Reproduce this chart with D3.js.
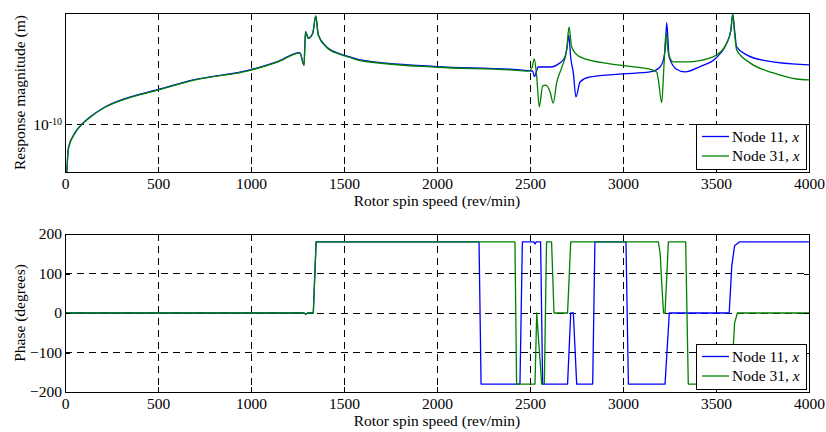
<!DOCTYPE html>
<meta charset="utf-8">
<style>
body{margin:0;background:#fff;}
.grid line{stroke:#000;stroke-width:1;stroke-dasharray:7,5;shape-rendering:crispEdges;}
.box{stroke:#000;stroke-width:1;shape-rendering:crispEdges;}
.tick line{stroke:#000;shape-rendering:crispEdges;}
.curve{fill:none;stroke-width:1.3;stroke-linejoin:round;}
</style>
<body>
<script src="https://d3js.org/d3.v7.min.js"></script>
<script>

// response magnitude (m) against spin speed (rev/min)
var speedMag11=[0,9,18,54,90,134,206,332,493,690,995,1138,1263,1285,1293,1308,1332,1348,1362,1407,
  1478,1532,1586,2000,2392,2491,2515,2523,2545,2607,2661,2688,2700,2708,2719,2733,2747,2769,2823,3000,
  3145,3199,3217,3228,3235,3248,3288,3333,3414,3500,3557,3580,3590,3600,3611,3665,3772,4000];
var mag11=[3.0e-11,3.7e-11,6.1e-11,8.4e-11,1.0e-10,1.16e-10,1.40e-10,1.72e-10,2.03e-10,2.50e-10,
  3.08e-10,3.63e-10,4.40e-10,3.40e-10,6.80e-10,5.96e-10,6.61e-10,9.40e-10,6.34e-10,4.95e-10,
  4.30e-10,4.03e-10,3.79e-10,3.30e-10,3.12e-10,3.03e-10,3.00e-10,2.68e-10,3.27e-10,3.27e-10,
  3.56e-10,4.03e-10,5.00e-10,6.34e-10,3.94e-10,2.89e-10,1.76e-10,2.40e-10,2.66e-10,2.83e-10,
  2.95e-10,3.27e-10,3.79e-10,5.00e-10,8.18e-10,4.03e-10,3.12e-10,2.95e-10,3.30e-10,3.94e-10,
  5.33e-10,7.00e-10,9.79e-10,7.00e-10,4.95e-10,4.20e-10,3.71e-10,3.41e-10];

var speedMag31=[0,9,18,54,90,134,206,332,493,690,995,1138,1263,1285,1293,1308,1332,1348,1362,1407,
  1478,1532,1586,2000,2392,2491,2510,2523,2536,2550,2568,2586,2608,2625,2643,2670,2697,2710,2724,2769,
  2930,3145,3181,3190,3208,3220,3231,3244,3270,3342,3485,3557,3580,3590,3600,3611,3683,3808,3933,4000];
var mag31=[3.0e-11,3.6e-11,6.0e-11,8.3e-11,0.99e-10,1.15e-10,1.39e-10,1.70e-10,2.01e-10,2.48e-10,
  3.05e-10,3.60e-10,4.36e-10,3.38e-10,6.75e-10,5.90e-10,6.55e-10,9.35e-10,6.30e-10,4.90e-10,
  4.25e-10,3.98e-10,3.74e-10,3.25e-10,3.08e-10,3.00e-10,3.20e-10,3.86e-10,2.68e-10,1.43e-10,
  2.21e-10,2.25e-10,1.95e-10,1.55e-10,2.35e-10,3.21e-10,4.66e-10,7.48e-10,4.95e-10,4.03e-10,
  3.48e-10,3.12e-10,2.95e-10,2.50e-10,1.56e-10,3.30e-10,6.61e-10,4.37e-10,3.63e-10,3.63e-10,
  4.03e-10,5.33e-10,7.00e-10,9.79e-10,6.50e-10,4.66e-10,3.56e-10,2.89e-10,2.55e-10,2.50e-10];

// phase (degrees)
var speedPh11=[0,1285,1295,1305,1335,1350,2226,2237,2446,2459,2520,2527,2534,2557,2568,2702,2719,2733,2751,2837,
  2849,3016,3029,3226,3249,3571,3585,3600,3625,4000];
var ph11=[0,0,-3,0,0,180,180,-180,-180,180,180,175,180,180,-180,-180,0,0,-180,-180,
  180,180,-180,-180,0,0,120,170,180,180];
var speedPh31=[0,1285,1295,1305,1335,1350,2419,2428,2527,2536,2545,2563,2577,2589,2616,2629,2702,2719,3190,3200,
  3210,3218,3226,3244,3337,3351,3575,3590,3600,3615,4000];
var ph31=[0,0,-3,0,0,180,180,-180,-180,0,-60,-180,-180,180,180,0,0,180,180,150,
  60,0,0,180,180,-180,-180,-110,-25,0,0];

var speedTicks=[0,500,1000,1500,2000,2500,3000,3500,4000];
var phaseTicks=[-200,-100,0,100,200];
var seriesNames=["Node 11, ","Node 31, "];
var colors=["#0000ff","#008000"];
var FONT="'Liberation Serif','Times New Roman',serif";

var svg=d3.select("body").append("svg").attr("width",826).attr("height",432)
  .style("font-family",FONT);

var x=d3.scaleLinear().domain([0,4000]).range([65,809]);
var yMag=d3.scaleLog().domain([Math.pow(10,-10.43),1e-9]).range([172,13]);
var yPh=d3.scaleLinear().domain([-200,200]).range([392,234]);

function zip(a,b){ return a.map(function(v,i){ return [v,b[i]]; }); }

function panel(id,y,yTickVals,series,curve,ylabel){
  var top=y.range()[1], bot=y.range()[0];
  var g=svg.append("g");
  g.append("clipPath").attr("id",id).append("rect")
    .attr("x",65).attr("y",top).attr("width",744).attr("height",bot-top);

  var grid=g.append("g").attr("class","grid");
  grid.selectAll(".v").data(speedTicks.slice(1,-1)).enter().append("line")
    .attr("x1",d=>x(d)).attr("x2",d=>x(d)).attr("y1",top).attr("y2",bot);
  grid.selectAll(".h").data(yTickVals.filter(d=>y(d)>top+1&&y(d)<bot-1)).enter().append("line")
    .attr("x1",65).attr("x2",809).attr("y1",d=>y(d)).attr("y2",d=>y(d));

  var line=d3.line().x(d=>x(d[0])).y(d=>y(d[1])).curve(curve);
  g.append("g").attr("clip-path","url(#"+id+")").selectAll("path").data(series).enter()
    .append("path").attr("class","curve")
    .attr("stroke",(d,i)=>colors[i]).attr("d",d=>line(d));

  // axes with inward ticks
  g.append("g").attr("transform","translate(0,"+bot+")")
    .call(d3.axisBottom(x).tickValues(speedTicks).tickSize(-5).tickPadding(6).tickFormat(d3.format("d")));
  g.append("g").attr("transform","translate(0,"+top+")")
    .call(d3.axisTop(x).tickValues(speedTicks).tickSize(-5).tickFormat(""));
  var yl=g.append("g").attr("transform","translate(65,0)")
    .call(d3.axisLeft(y).tickValues(yTickVals).tickSize(-5).tickPadding(3).tickFormat(d3.format("d")));
  g.append("g").attr("transform","translate(809,0)")
    .call(d3.axisRight(y).tickValues(yTickVals).tickSize(-5).tickFormat(""));
  g.selectAll(".domain").remove();
  g.selectAll("g").attr("font-family",null).attr("font-size",null);
  g.selectAll(".tick text").attr("font-size",15.5).style("font-family",FONT);

  g.append("rect").attr("class","box").attr("fill","none")
    .attr("x",65).attr("y",top).attr("width",744).attr("height",bot-top);

  g.append("text").attr("x",437).attr("y",bot+34).attr("text-anchor","middle")
    .attr("font-size",15.5).style("font-family",FONT).text("Rotor spin speed (rev/min)");
  g.append("text").attr("transform","translate(25,"+((top+bot)/2)+") rotate(-90)")
    .attr("text-anchor","middle").attr("font-size",15.5).style("font-family",FONT).text(ylabel);

  // legend
  var lg=g.append("g").attr("transform","translate(696,"+(bot-48)+")");
  lg.append("rect").attr("class","box").attr("width",110).attr("height",45).attr("fill","#fff");
  seriesNames.forEach(function(n,i){
    var yy=12.5+i*19.5;
    lg.append("line").attr("x1",6).attr("x2",33).attr("y1",yy).attr("y2",yy)
      .attr("stroke",colors[i]).attr("stroke-width",1.3);
    var t=lg.append("text").attr("x",36).attr("y",yy+5).attr("font-size",15.5)
      .style("font-family",FONT).text(n);
    t.append("tspan").attr("font-style","italic").text("x");
  });
  return {g:g,yl:yl};
}

var p1=panel("clipMag",yMag,[1e-10],[zip(speedMag11,mag11),zip(speedMag31,mag31)],d3.curveMonotoneX,"Response magnitude (m)");
// log tick label written as 10 with a superscript
p1.yl.selectAll(".tick text").text(null).call(function(t){
  t.append("tspan").text("10");
  t.append("tspan").attr("font-size",10).attr("dy","-0.45em").text("-10");
});

panel("clipPh",yPh,phaseTicks,[zip(speedPh11,ph11),zip(speedPh31,ph31)],d3.curveLinear,"Phase (degrees)");

</script>
</body>
</html>
